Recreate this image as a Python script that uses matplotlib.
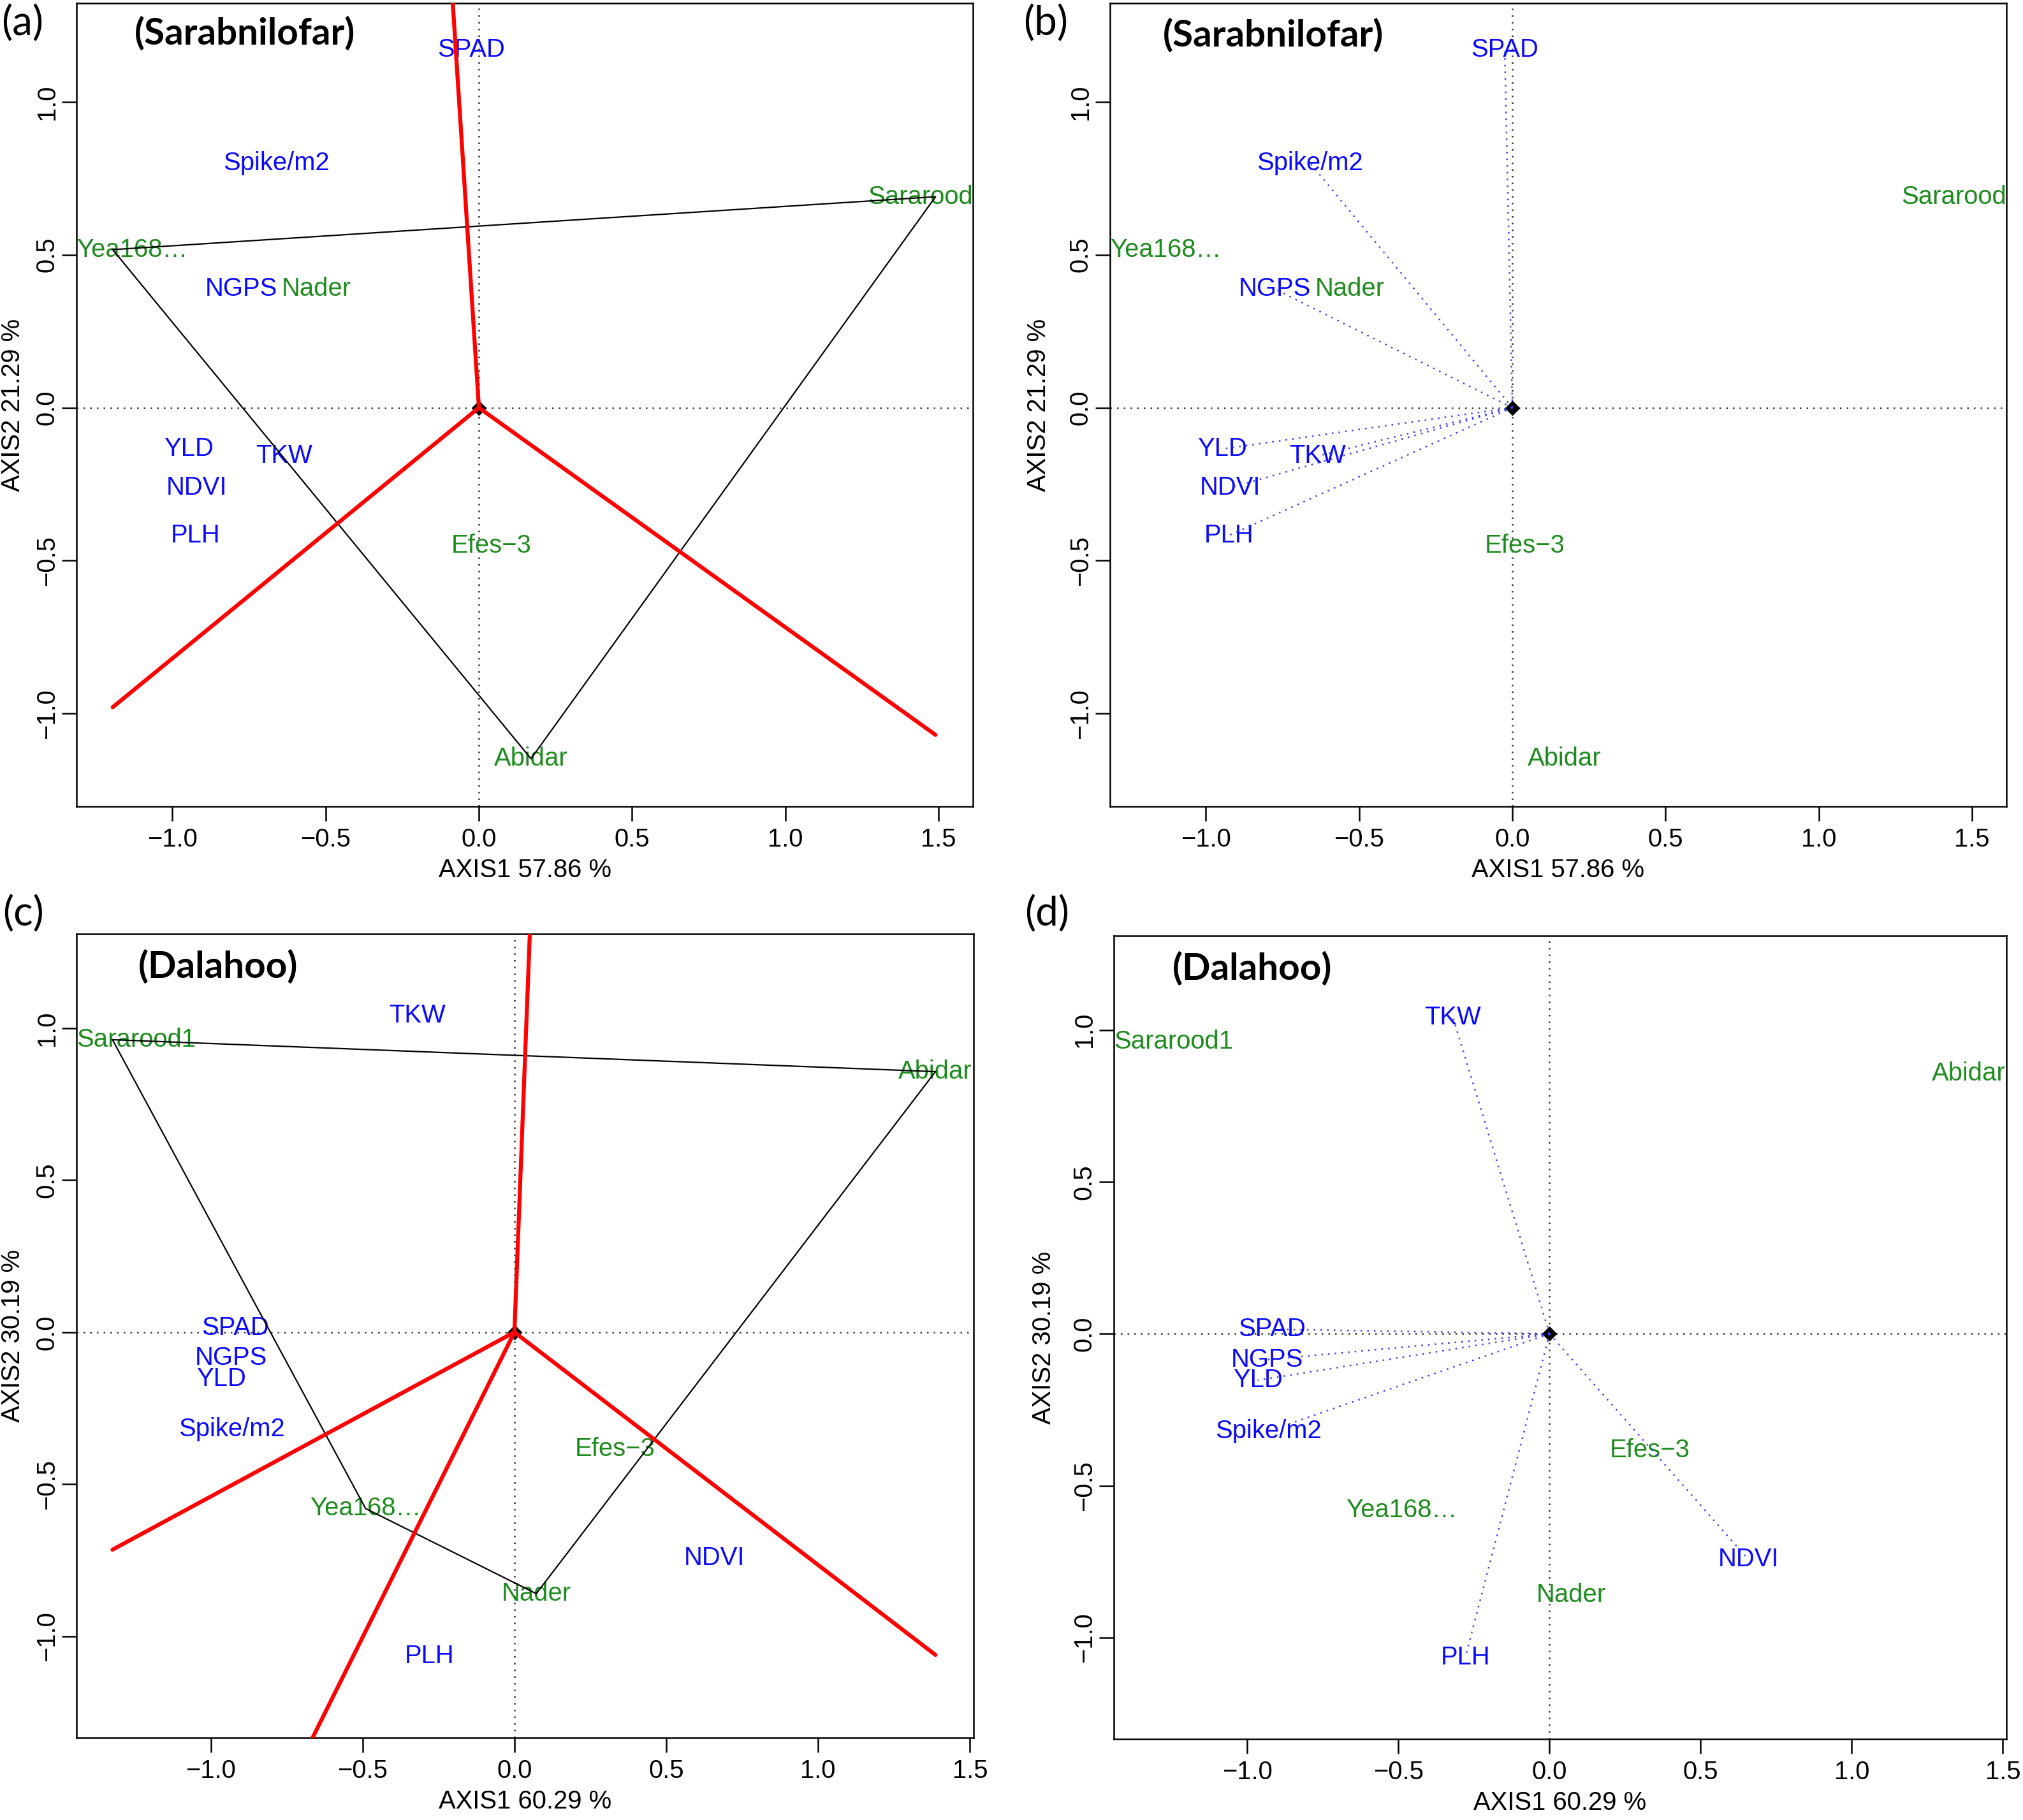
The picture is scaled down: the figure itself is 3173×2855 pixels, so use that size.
import numpy as np
import matplotlib
matplotlib.use("Agg")
import matplotlib.pyplot as plt
from matplotlib.ticker import FuncFormatter

plt.rcParams['font.family'] = ['Liberation Sans', 'DejaVu Sans']

# ---- data ----
# Sarabnilofar
sar_gen = ["Yea168\u2026", "Sararood", "Nader", "Efes\u22123", "Abidar"]
sar_gx = [-1.195, 1.490, -0.530, 0.040, 0.170]
sar_gy = [0.517, 0.690, 0.388, -0.452, -1.148]
sar_trait = ["SPAD", "Spike/m2", "NGPS", "YLD", "TKW", "NDVI", "PLH"]
sar_tx = [-0.025, -0.660, -0.775, -0.947, -0.635, -0.921, -0.925]
sar_ty = [1.170, 0.800, 0.388, -0.135, -0.158, -0.262, -0.418]

# Dalahoo
dal_gen = ["Sararood1", "Abidar", "Nader", "Yea168\u2026", "Efes\u22123"]
dal_gx = [-1.3235, 1.3865, 0.072, -0.490, 0.332]
dal_gy = [0.962, 0.857, -0.860, -0.580, -0.384]
dal_trait = ["TKW", "SPAD", "NGPS", "YLD", "Spike/m2", "NDVI", "PLH"]
dal_tx = [-0.320, -0.919, -0.934, -0.966, -0.930, 0.658, -0.279]
dal_ty = [1.042, 0.015, -0.085, -0.153, -0.320, -0.743, -1.066]

sar_axis = ["AXIS1 57.86 %", "AXIS2 21.29 %"]
dal_axis = ["AXIS1 60.29 %", "AXIS2 30.19 %"]
xticks = [-1.0, -0.5, 0.0, 0.5, 1.0, 1.5]
yticks = [-1.0, -0.5, 0.0, 0.5, 1.0]

W, H = 3173, 2855
fig = plt.figure(figsize=(W / 100, H / 100), dpi=100)

GREEN = "#1e8b1e"
BLUE = "#0a0aff"
FS = 28.8


def hull(xs, ys):
    pts = sorted(zip(xs, ys))

    def cross(o, a, b):
        return (a[0] - o[0]) * (b[1] - o[1]) - (a[1] - o[1]) * (b[0] - o[0])
    lower, upper = [], []
    for p in pts:
        while len(lower) >= 2 and cross(lower[-2], lower[-1], p) <= 0:
            lower.pop()
        lower.append(p)
    for p in reversed(pts):
        while len(upper) >= 2 and cross(upper[-2], upper[-1], p) <= 0:
            upper.pop()
        upper.append(p)
    return lower[:-1] + upper[:-1]


def keep_inside(ax, txt, renderer):
    # labels that would stick out of the box are pushed back inside
    bb = txt.get_window_extent(renderer)
    ab = ax.get_window_extent(renderer)
    dx = 0
    if bb.x0 < ab.x0:
        dx = ab.x0 - bb.x0
    elif bb.x1 > ab.x1:
        dx = ab.x1 - bb.x1
    if dx:
        px, py = ax.transData.transform(txt.get_position())
        txt.set_position(ax.transData.inverted().transform((px + dx, py)))


def minus(v, pos=None):
    return ("%.1f" % v).replace("-", "\u2212")


def biplot(rect, xlim, ylim, gen, gx, gy, trait, tx, ty, axis_lab, title,
           title_xy, ylab_off, which_won):
    ax = fig.add_axes(rect)
    ax.set_xlim(xlim)
    ax.set_ylim(ylim)
    for s in ax.spines.values():
        s.set_linewidth(1.8)
    ax.set_xticks(xticks)
    ax.set_yticks(yticks)
    ax.xaxis.set_major_formatter(FuncFormatter(minus))
    ax.yaxis.set_major_formatter(FuncFormatter(minus))
    ax.tick_params(direction='out', length=16.5, width=1.8, labelsize=FS)
    ax.tick_params(axis='x', pad=7)
    ax.tick_params(axis='y', pad=3)
    for lbl in ax.get_yticklabels():
        lbl.set_rotation(90)
        lbl.set_va('center')
    ax.set_xlabel(axis_lab[0], fontsize=FS, va='center')
    ax.xaxis.set_label_coords(0.5, -100 / 1260)
    ax.set_ylabel(axis_lab[1], fontsize=FS, va='center')
    ax.yaxis.set_label_coords(ylab_off, 0.5)

    dots = (0, (1, 3.2))
    ax.axhline(0, color='#333333', lw=1.8, ls=dots, zorder=1)
    ax.axvline(0, color='#333333', lw=1.8, ls=dots, zorder=1)

    texts = []
    for name, x, y in zip(gen, gx, gy):
        texts.append(ax.text(x, y, name, color=GREEN, fontsize=FS,
                             ha='center', va='center', zorder=2))
    for name, x, y in zip(trait, tx, ty):
        texts.append(ax.text(x, y, name, color=BLUE, fontsize=FS,
                             ha='center', va='center', zorder=2))

    ax.plot([0], [0], marker='D', color='black', ms=11, zorder=3)

    if which_won:
        poly = hull(gx, gy)
        closed = poly + [poly[0]]
        ax.plot([p[0] for p in closed], [p[1] for p in closed],
                color='black', lw=1.6, zorder=4)
        allx = list(gx) + list(tx)
        # rays from the origin perpendicular to each polygon side
        for (x1, y1), (x2, y2) in zip(closed[:-1], closed[1:]):
            m = (y2 - y1) / (x2 - x1)
            mp = -1 / m
            c = y2 - m * x2
            xi = -c / (m - mp)
            xi = min(allx) if xi < 0 else max(allx)
            ax.plot([0, xi], [0, mp * xi], color='#ff0000', lw=4.5,
                    solid_capstyle='round', zorder=5)
    else:
        for x, y in zip(tx, ty):
            ax.plot([0, x], [0, y], color='#3d3dff', lw=1.8, ls=dots,
                    zorder=4)

    ax.text(title_xy[0], title_xy[1], title, transform=ax.transAxes,
            fontsize=42, fontweight='bold', family='Lato',
            ha='center', va='center')

    renderer = fig.canvas.get_renderer()
    for t in texts:
        keep_inside(ax, t, renderer)
    return ax


xl_sar, yl_sar = (-1.313, 1.612), (-1.304, 1.323)
xl_dal, yl_dal = (-1.442, 1.512), (-1.334, 1.310)

biplot([120 / W, 1 - 1265 / H, 1406 / W, 1260 / H], xl_sar, yl_sar,
       sar_gen, sar_gx, sar_gy, sar_trait, sar_tx, sar_ty, sar_axis,
       "(Sarabnilofar)", (0.188, 0.962), -100 / 1406, True)
biplot([1741 / W, 1 - 1265 / H, 1406 / W, 1260 / H], xl_sar, yl_sar,
       sar_gen, sar_gx, sar_gy, sar_trait, sar_tx, sar_ty, sar_axis,
       "(Sarabnilofar)", (0.182, 0.960), -112 / 1406, False)
biplot([120 / W, 1 - 2726 / H, 1407 / W, 1261 / H], xl_dal, yl_dal,
       dal_gen, dal_gx, dal_gy, dal_trait, dal_tx, dal_ty, dal_axis,
       "(Dalahoo)", (0.158, 0.959), -100 / 1407, True)
biplot([1747 / W, 1 - 2728 / H, 1400 / W, 1260 / H], xl_dal, yl_dal,
       dal_gen, dal_gx, dal_gy, dal_trait, dal_tx, dal_ty, dal_axis,
       "(Dalahoo)", (0.155, 0.959), -110 / 1400, False)

# panel letters
for lab, x, y in [("(a)", 2, 37), ("(b)", 1605, 37),
                  ("(c)", 4, 1434), ("(d)", 1607, 1434)]:
    fig.text(x / W, 1 - y / H, lab, fontsize=46, family='Lato',
             ha='left', va='center')

fig.savefig("out.png", dpi=100, facecolor='white')
